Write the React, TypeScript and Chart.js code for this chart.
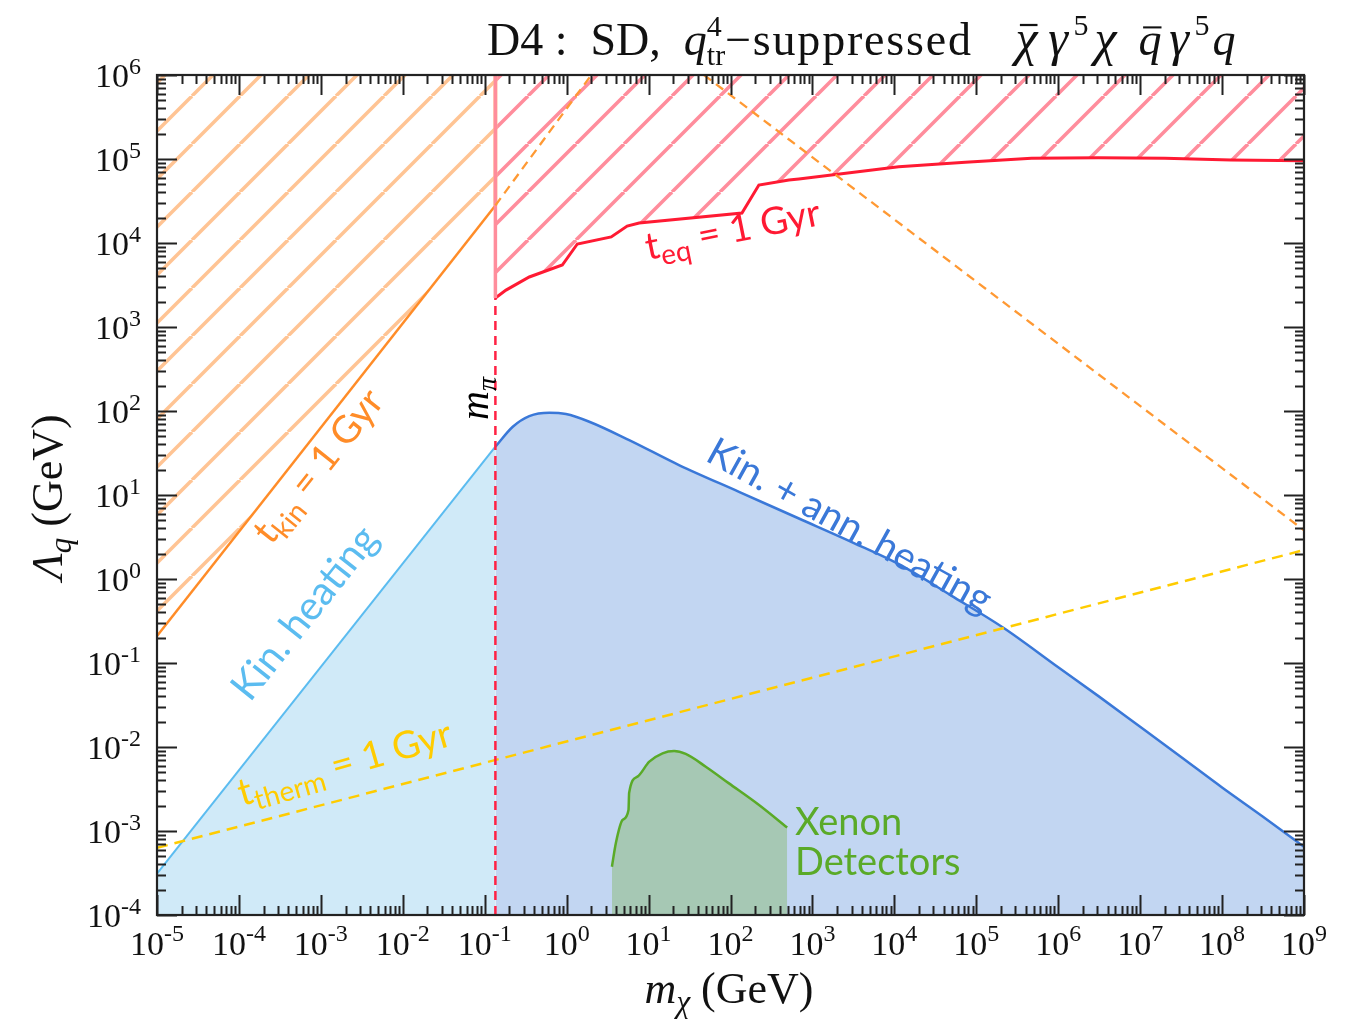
import { useEffect, useRef } from 'react';
import { Chart, registerables } from 'chart.js';

Chart.register(...registerables);

// Pion mass threshold (GeV)
const M_PI = 0.135;

// Kinetic heating reach, m_chi below m_pi
const kinHeatMass = [1e-5, M_PI];
const kinHeatLambda = [3.1e-4, 37.6];

// Kinetic + annihilation heating reach, m_chi above m_pi
const kinAnnMass = [M_PI, 0.22, 0.35, 0.615, 0.98, 1.89, 5.8, 23.5, 127, 684, 3160, 11200, 50100, 2.14e5, 1e6, 3.16e6, 1e7, 3.16e7, 1e8, 3.16e8, 1e9];
const kinAnnLambda = [37.6, 65, 87, 95.5, 92, 74.5, 45, 22.7, 10.9, 5.25, 2.7, 1.51, 0.63, 0.263, 0.089, 0.0398, 0.0174, 0.0076, 0.0033, 0.00148, 0.00065];

// t_kin = 1 Gyr contour
const tKinMass = [1e-5, M_PI];
const tKinLambda = [0.21, 2.8e4];
const tKinExtMass = [M_PI, 2.0];
const tKinExtLambda = [2.8e4, 1e6];
const tKinFallMass = [47.5, 1e9];
const tKinFallLambda = [1e6, 3.8];

// t_eq = 1 Gyr contour
const tEqMass = [M_PI, 0.182, 0.35, 0.885, 1.35, 3.5, 5.48, 7.67, 138, 222, 516, 684, 11300, 73500, 4.72e5, 3.09e6, 2.0e7, 1.29e8, 1e9];
const tEqLambda = [2210, 2750, 3940, 5470, 9730, 11800, 15900, 17300, 22700, 49000, 56200, 57800, 80900, 91200, 101900, 103500, 101900, 97300, 95500];

// t_therm = 1 Gyr contour
const tThermMass = [1e-5, 1e9];
const tThermLambda = [6.3e-4, 2.21];

// Xenon direct-detection limit
const xenonMass = [3.57, 3.99, 4.81, 5.69, 5.79, 7.33, 10.2, 14.8, 20.5, 28.4, 49.9, 95.9, 223, 492];
const xenonLambda = [3.76e-4, 7.2e-4, 1.35e-3, 1.78e-3, 2.83e-3, 4.44e-3, 6.68e-3, 8.41e-3, 8.95e-3, 8.26e-3, 5.83e-3, 3.69e-3, 2.04e-3, 1.10e-3];

// Vertical edges at m_pi
const piEdgeMass = [M_PI, M_PI];
const piDashLambda = [1e-4, 2210];
const kinEdgeLambda = [2.8e4, 1e6];
const eqEdgeLambda = [2210, 1e6];

// Decade exponents for axis ticks
const xTickExps = [-5, -4, -3, -2, -1, 0, 1, 2, 3, 4, 5, 6, 7, 8, 9];
const yTickExps = [-4, -3, -2, -1, 0, 1, 2, 3, 4, 5, 6];

const SERIF = "'Liberation Serif', 'DejaVu Serif', serif";
const SANS = "Lato, 'Noto Sans', sans-serif";

type Seg = { t?: string; size: number; it?: boolean; dy?: number; bar?: boolean; w?: number; ls?: number; stack?: Seg[] };

const pts = (xs: number[], ys: number[]) => xs.map((x, i) => ({ x, y: ys[i] }));

function fontOf(s: Seg, fam: string) {
  return `${s.it ? 'italic ' : ''}${s.size}px ${fam}`;
}

function rawWidth(ctx: CanvasRenderingContext2D, s: Seg, fam: string): number {
  ctx.font = fontOf(s, fam);
  const t = s.t || '';
  if (!s.ls) return ctx.measureText(t).width;
  let w = 0;
  for (const ch of t) w += ctx.measureText(ch).width + s.ls;
  return w;
}

function segWidth(ctx: CanvasRenderingContext2D, s: Seg, fam: string): number {
  if (s.w !== undefined) return s.w;
  if (s.stack) return Math.max(...s.stack.map((q) => segWidth(ctx, q, fam)));
  return rawWidth(ctx, s, fam);
}

function drawRich(
  ctx: CanvasRenderingContext2D,
  segs: Seg[],
  x: number,
  y: number,
  fam: string,
  color: string,
  angle = 0,
  align: 'left' | 'center' | 'right' = 'left'
) {
  const widths = segs.map((s) => segWidth(ctx, s, fam));
  const total = widths.reduce((a, b) => a + b, 0);
  ctx.save();
  ctx.translate(x, y);
  ctx.rotate(angle);
  ctx.fillStyle = color;
  ctx.strokeStyle = color;
  ctx.textBaseline = 'alphabetic';
  ctx.textAlign = 'left';
  let cx = align === 'center' ? -total / 2 : align === 'right' ? -total : 0;
  segs.forEach((s, i) => {
    const parts = s.stack ? s.stack : [s];
    parts.forEach((p) => {
      ctx.font = fontOf(p, fam);
      const t = p.t || '';
      const w = rawWidth(ctx, p, fam);
      // centre a glyph inside a fixed advance
      const ox = s.w !== undefined && !s.stack ? (s.w - w) / 2 : 0;
      if (p.ls) {
        let px = cx + ox;
        for (const ch of t) {
          ctx.fillText(ch, px, p.dy || 0);
          px += ctx.measureText(ch).width + p.ls;
        }
      } else {
        ctx.fillText(t, cx + ox, p.dy || 0);
      }
      if (p.bar) {
        ctx.lineWidth = Math.max(1.5, p.size * 0.045);
        ctx.beginPath();
        ctx.moveTo(cx + ox + w * 0.2, (p.dy || 0) - p.size * 0.6);
        ctx.lineTo(cx + ox + w * 1.0, (p.dy || 0) - p.size * 0.6);
        ctx.stroke();
      }
    });
    cx += widths[i];
  });
  ctx.restore();
}

function hatch(color: string, width: number, gap: number) {
  const c = document.createElement('canvas');
  c.width = gap;
  c.height = gap;
  const g = c.getContext('2d')!;
  g.strokeStyle = color;
  g.lineWidth = width;
  for (const k of [-1, 0, 1]) {
    g.beginPath();
    g.moveTo(k * gap, gap);
    g.lineTo(k * gap + gap, 0);
    g.stroke();
  }
  return g.createPattern(c, 'repeat')!;
}

const framePlugin = {
  id: 'frameAndLabels',
  afterDatasetsDraw(chart: any) {
    const ctx: CanvasRenderingContext2D = chart.ctx;
    const xs = chart.scales.x;
    const ys = chart.scales.y;
    const { left, right, top, bottom } = chart.chartArea;

    // in-plot annotations
    const lab = 38;
    const sub = 28;
    drawRich(ctx, [{ t: 't', size: lab }, { t: 'kin', size: sub, dy: 8 }, { t: ' = 1 Gyr', size: lab }], 271, 546, SANS, '#ff8c28', -0.9);
    drawRich(ctx, [{ t: 'Kin. heating', size: 40 }], 250, 703, SANS, '#5bbcf0', -0.9);
    drawRich(ctx, [{ t: 't', size: lab }, { t: 'therm', size: sub, dy: 8 }, { t: ' = 1 Gyr', size: lab }], 242, 806, SANS, '#ffcc00', -0.28);
    drawRich(ctx, [{ t: 't', size: lab }, { t: 'eq', size: sub, dy: 8 }, { t: ' = 1 Gyr', size: lab }], 648, 260, SANS, '#ff1a33', -0.2);
    drawRich(ctx, [{ t: 'Kin. + ann. heating', size: 39 }], 704, 460, SANS, '#3a78d8', 0.505);
    drawRich(ctx, [{ t: 'Xenon', size: lab }], 795, 835, SANS, '#5aaa28');
    drawRich(ctx, [{ t: 'Detectors', size: lab }], 795, 875, SANS, '#5aaa28');
    drawRich(ctx, [{ t: 'm', size: 40, it: true }, { t: 'π', size: 28, it: true, dy: 8 }], 488, 420, SERIF, '#000', -Math.PI / 2);

    // frame and inward ticks on all four sides
    ctx.save();
    ctx.strokeStyle = '#222';
    ctx.lineWidth = 2;
    ctx.beginPath();
    const major = 20;
    const minor = 9;
    for (let e = -5; e <= 9; e++) {
      for (let m = 1; m <= 9; m++) {
        if (e === 9 && m > 1) break;
        const px = Math.round(xs.getPixelForValue(m * Math.pow(10, e))) + 0.5;
        const len = m === 1 ? major : minor;
        ctx.moveTo(px, bottom);
        ctx.lineTo(px, bottom - len);
        ctx.moveTo(px, top);
        ctx.lineTo(px, top + len);
      }
    }
    for (let e = -4; e <= 6; e++) {
      for (let m = 1; m <= 9; m++) {
        if (e === 6 && m > 1) break;
        const py = Math.round(ys.getPixelForValue(m * Math.pow(10, e))) + 0.5;
        const len = m === 1 ? major : minor;
        ctx.moveTo(left, py);
        ctx.lineTo(left + len, py);
        ctx.moveTo(right, py);
        ctx.lineTo(right - len, py);
      }
    }
    ctx.stroke();
    ctx.lineWidth = 2.2;
    ctx.strokeRect(left, top, right - left, bottom - top);
    ctx.restore();

    // tick labels
    xTickExps.forEach((e) => {
      const px = xs.getPixelForValue(Math.pow(10, e));
      drawRich(ctx, [{ t: '10', size: 34 }, { t: String(e), size: 24, dy: -14 }], px, 955, SERIF, '#111', 0, 'center');
    });
    yTickExps.forEach((e) => {
      const py = ys.getPixelForValue(Math.pow(10, e));
      drawRich(ctx, [{ t: '10', size: 34 }, { t: String(e), size: 24, dy: -13 }], 141, py + 12, SERIF, '#111', 0, 'right');
    });

    // axis titles
    drawRich(
      ctx,
      [{ t: 'm', size: 44, it: true }, { t: 'χ', size: 31, it: true, dy: 9 }, { t: ' (GeV)', size: 44 }],
      729,
      1003,
      SERIF,
      '#111',
      0,
      'center'
    );
    drawRich(
      ctx,
      [{ t: 'Λ', size: 44, it: true }, { t: 'q', size: 31, it: true, dy: 9 }, { t: ' (GeV)', size: 44 }],
      62,
      497,
      SERIF,
      '#111',
      -Math.PI / 2,
      'center'
    );

    // title
    const T = 46;
    const S = 30;
    const G = 50;
    drawRich(
      ctx,
      [
        { t: 'D4 :  SD,  ', size: T },
        { t: 'q', size: T, it: true },
        { size: S, stack: [{ t: '4', size: S, dy: -19 }, { t: 'tr', size: S, dy: 10 }] },
        { t: '−suppressed', size: T, ls: 1.8 },
      ],
      487,
      55,
      SERIF,
      '#111'
    );
    drawRich(
      ctx,
      [
        { t: 'χ', size: G, it: true, bar: true, w: 33 },
        { t: 'γ', size: G, it: true, w: 30 },
        { t: '5', size: S, dy: -20, w: 16 },
        { t: 'χ', size: G, it: true, w: 33 },
        { t: ' ', size: T, w: 14 },
        { t: 'q', size: T, it: true, bar: true, w: 28 },
        { t: 'γ', size: G, it: true, w: 30 },
        { t: '5', size: S, dy: -20, w: 16 },
        { t: 'q', size: T, it: true, w: 28 },
      ],
      1010,
      55,
      SERIF,
      '#111'
    );
  },
};

export default function App() {
  const ref = useRef<HTMLCanvasElement | null>(null);

  useEffect(() => {
    if (!ref.current) return;
    const orangeHatch = hatch('#ffc494', 3.5, 48);
    const redHatch = hatch('#ff8d9c', 3.5, 48);

    const base = { pointRadius: 0, pointHoverRadius: 0, fill: false, tension: 0 };

    const chart = new Chart(ref.current, {
      type: 'line',
      data: {
        datasets: [
          // dashed / thin lines on top
          { ...base, label: 'm_pi', data: pts(piEdgeMass, piDashLambda), borderColor: '#ff2244', borderWidth: 2.5, borderDash: [9, 6], order: 1 },
          { ...base, label: 't_therm', data: pts(tThermMass, tThermLambda), borderColor: '#ffcc00', borderWidth: 2.5, borderDash: [11, 7], order: 2 },
          { ...base, label: 't_kin ext', data: pts(tKinExtMass, tKinExtLambda), borderColor: '#ff9933', borderWidth: 2.3, borderDash: [9, 6], order: 3 },
          { ...base, label: 't_kin fall', data: pts(tKinFallMass, tKinFallLambda), borderColor: '#ff9933', borderWidth: 2.3, borderDash: [9, 6], order: 3 },
          { ...base, label: 'kin edge', data: pts(piEdgeMass, kinEdgeLambda), borderColor: '#ffc494', borderWidth: 4, order: 6 },
          { ...base, label: 'eq edge', data: pts(piEdgeMass, eqEdgeLambda), borderColor: '#ff8d9c', borderWidth: 3.5, order: 5 },
          // filled regions
          {
            ...base,
            label: 'Xenon',
            data: pts(xenonMass, xenonLambda),
            borderColor: '#5aaa28',
            borderWidth: 2.5,
            backgroundColor: '#a6c8b4',
            fill: 'start',
            cubicInterpolationMode: 'monotone',
            order: 7,
          },
          {
            ...base,
            label: 'Kin. + ann. heating',
            data: pts(kinAnnMass, kinAnnLambda),
            borderColor: '#3a78d8',
            borderWidth: 2.5,
            backgroundColor: '#c2d6f2',
            fill: 'start',
            cubicInterpolationMode: 'monotone',
            order: 8,
          },
          {
            ...base,
            label: 'Kin. heating',
            data: pts(kinHeatMass, kinHeatLambda),
            borderColor: '#5bbcf0',
            borderWidth: 2,
            backgroundColor: '#d0eaf8',
            fill: 'start',
            order: 9,
          },
          {
            ...base,
            label: 't_eq',
            data: pts(tEqMass, tEqLambda),
            borderColor: '#ff1a33',
            borderWidth: 3,
            backgroundColor: redHatch,
            fill: 'end',
            order: 10,
          },
          {
            ...base,
            label: 't_kin',
            data: pts(tKinMass, tKinLambda),
            borderColor: '#ff8c28',
            borderWidth: 2.5,
            backgroundColor: orangeHatch,
            fill: 'end',
            order: 11,
          },
        ] as any,
      },
      options: {
        responsive: false,
        animation: false,
        events: [],
        layout: { padding: { left: 157, top: 75, right: 54, bottom: 104 } },
        scales: {
          x: { type: 'logarithmic', min: 1e-5, max: 1e9, display: false },
          y: { type: 'logarithmic', min: 1e-4, max: 1e6, display: false },
        },
        plugins: {
          legend: { display: false },
          tooltip: { enabled: false },
        },
      },
      plugins: [framePlugin],
    });
    return () => chart.destroy();
  }, []);

  return (
    <div style={{ position: 'absolute', left: 0, top: 0, width: 1358, height: 1019, background: '#fff' }}>
      <canvas ref={ref} width={1358} height={1019} />
    </div>
  );
}
